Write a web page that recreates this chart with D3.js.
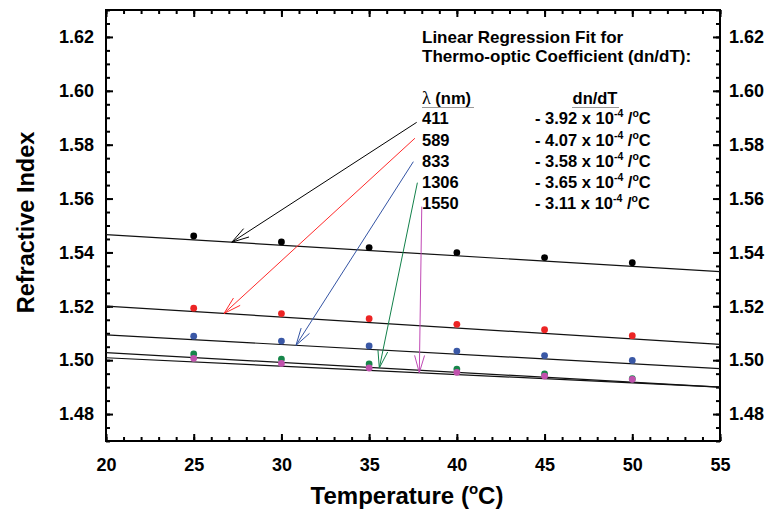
<!DOCTYPE html>
<html><head><meta charset="utf-8">
<script src="https://cdn.jsdelivr.net/npm/d3@7"></script>
<style>
body{margin:0;background:#fff}
svg{display:block}
text{font-family:"Liberation Sans",Arial,Helvetica,sans-serif;font-weight:bold;fill:#000}
</style>
</head><body>
<svg id="c" width="770" height="512"></svg>
<script>
// ---- data ----
const temperatures = [25, 30, 35, 40, 45, 50];
const wavelengths = ["411", "589", "833", "1306", "1550"];
const n411  = [1.5461, 1.5439, 1.5418, 1.5399, 1.5381, 1.5362];
const n589  = [1.5193, 1.5173, 1.5154, 1.5133, 1.5113, 1.5091];
const n833  = [1.5089, 1.5071, 1.5053, 1.5034, 1.5017, 1.4999];
const n1306 = [1.5023, 1.5004, 1.4986, 1.4967, 1.4949, 1.4931];
const n1550 = [1.5007, 1.4988, 1.4971, 1.4955, 1.4941, 1.4929];
const slopes = [-3.92e-4, -4.07e-4, -3.58e-4, -3.65e-4, -3.11e-4];
const slopeLabels = ["3.92", "4.07", "3.58", "3.65", "3.11"];
const fitAt20 = [1.5466, 1.5201, 1.5094, 1.5028, 1.5009];
const fitRange = [20, 55];
const arrowFromT = [37.71, 37.61, 37.52, 37.75, 38.0];
const arrowFromN = [1.5883, 1.5824, 1.5737, 1.5659, 1.5570];
const arrowToT = [27.17, 26.73, 30.83, 35.58, 37.86];
const xTicks = [20, 25, 30, 35, 40, 45, 50, 55];
const yTicks = [1.48, 1.50, 1.52, 1.54, 1.56, 1.58, 1.60, 1.62];
const dotColors = ["#000000", "#ec2424", "#3a58a6", "#17864a", "#c152ad"];
const arrowColors = ["#000000", "#ff2a2a", "#3454a4", "#12804a", "#c048b4"];

const series = [n411, n589, n833, n1306, n1550];

// ---- layout ----
const L = 106, R = 720, T = 10, B = 441;
const svg = d3.select("#c");
const x = d3.scaleLinear().domain([20, 55]).range([L, R]);
const y = d3.scaleLinear().domain([1.47, 1.63]).range([B, T]);

const xMinor = d3.range(20, 55.001, 1);
const yMinor = d3.range(1470, 1630.001, 5).map(v => v / 1000);

function styleAxis(g) {
  g.select(".domain").remove();
  g.selectAll(".tick line").attr("stroke", "#000").attr("stroke-width", 2);
  g.selectAll(".tick text").attr("font-size", 18).attr("fill", "#000")
    .attr("font-family", "Liberation Sans, Arial, sans-serif").attr("font-weight", "bold");
}

// minor ticks
svg.append("g").attr("transform", `translate(0,${B})`)
  .call(d3.axisBottom(x).tickValues(xMinor).tickSize(-4).tickFormat(""))
  .call(styleAxis);
svg.append("g").attr("transform", `translate(0,${T})`)
  .call(d3.axisTop(x).tickValues(xMinor).tickSize(-4).tickFormat(""))
  .call(styleAxis);
svg.append("g").attr("transform", `translate(${L},0)`)
  .call(d3.axisLeft(y).tickValues(yMinor).tickSize(-4).tickFormat(""))
  .call(styleAxis);
svg.append("g").attr("transform", `translate(${R},0)`)
  .call(d3.axisRight(y).tickValues(yMinor).tickSize(-4).tickFormat(""))
  .call(styleAxis);

// major ticks + labels
svg.append("g").attr("transform", `translate(0,${B})`)
  .call(d3.axisBottom(x).tickValues(xTicks).tickSize(-7).tickPadding(17).tickFormat(d3.format("d")))
  .call(styleAxis);
svg.append("g").attr("transform", `translate(0,${T})`)
  .call(d3.axisTop(x).tickValues(xTicks).tickSize(-7).tickFormat(""))
  .call(styleAxis);
svg.append("g").attr("transform", `translate(${L},0)`)
  .call(d3.axisLeft(y).tickValues(yTicks).tickSize(-7).tickPadding(12).tickFormat(d3.format(".2f")))
  .call(styleAxis);
svg.append("g").attr("transform", `translate(${R},0)`)
  .call(d3.axisRight(y).tickValues(yTicks).tickSize(-7).tickPadding(9).tickFormat(d3.format(".2f")))
  .call(styleAxis);

// frame
svg.append("rect").attr("x", L).attr("y", T).attr("width", R - L).attr("height", B - T)
  .attr("fill", "none").attr("stroke", "#000").attr("stroke-width", 2);

// fit lines
const line = d3.line().x(d => x(d[0])).y(d => y(d[1]));
fitAt20.forEach((a, i) => {
  const pts = fitRange.map(t => [t, a + slopes[i] * (t - 20)]);
  svg.append("path").attr("d", line(pts)).attr("fill", "none")
    .attr("stroke", "#111").attr("stroke-width", 1.2);
});

// dots
series.forEach((vals, i) => {
  svg.append("g").selectAll("circle").data(vals).join("circle")
    .attr("cx", (d, j) => x(temperatures[j])).attr("cy", d => y(d))
    .attr("r", 3.4).attr("fill", dotColors[i]);
});

// arrows
arrowToT.forEach((t, i) => {
  const tipN = fitAt20[i] + slopes[i] * (t - 20);
  const x0 = x(arrowFromT[i]), y0 = y(arrowFromN[i]);
  const x1 = x(t), y1 = y(tipN);
  const ang = Math.atan2(y0 - y1, x0 - x1);
  const len = 18, spread = 16 * Math.PI / 180;
  const w1 = [x1 + len * Math.cos(ang - spread), y1 + len * Math.sin(ang - spread)];
  const w2 = [x1 + len * Math.cos(ang + spread), y1 + len * Math.sin(ang + spread)];
  const p = d3.path();
  p.moveTo(x0, y0); p.lineTo(x1, y1);
  p.moveTo(w1[0], w1[1]); p.lineTo(x1, y1); p.lineTo(w2[0], w2[1]);
  svg.append("path").attr("d", p.toString()).attr("fill", "none")
    .attr("stroke", arrowColors[i]).attr("stroke-width", 1);
});

// legend text
const lg = svg.append("g");
lg.append("text").attr("x", 422).attr("y", 42.5).attr("font-size", 17).text("Linear Regression Fit for");
lg.append("text").attr("x", 422).attr("y", 61.5).attr("font-size", 17).text("Thermo-optic Coefficient (dn/dT):");

const hdr = lg.append("text").attr("x", 422).attr("y", 103.5).attr("font-size", 16.5);
hdr.append("tspan").attr("font-family", "Liberation Serif, DejaVu Serif, serif").attr("font-weight", "normal").attr("font-size", 18).text("λ");
hdr.append("tspan").text(" (nm)");
lg.append("text").attr("x", 595).attr("y", 103.5).attr("font-size", 16.5).attr("text-anchor", "middle").text("dn/dT");
lg.append("line").attr("x1", 422).attr("x2", 474).attr("y1", 107.5).attr("y2", 107.5).attr("stroke", "#999").attr("stroke-width", 1);
lg.append("line").attr("x1", 572).attr("x2", 619).attr("y1", 107.5).attr("y2", 107.5).attr("stroke", "#999").attr("stroke-width", 1);

wavelengths.forEach((w, i) => {
  const yy = 124.2 + i * 21.3;
  lg.append("text").attr("x", 422).attr("y", yy).attr("font-size", 16.5).text(w);
  const t = lg.append("text").attr("x", 535).attr("y", yy).attr("font-size", 16.5);
  t.append("tspan").text(`- ${slopeLabels[i]} x 10`);
  t.append("tspan").attr("font-size", 10.5).attr("dy", -7).text("-4");
  t.append("tspan").attr("dy", 7).text(" /");
  t.append("tspan").attr("font-size", 10.5).attr("dy", -7).text("o");
  t.append("tspan").attr("dy", 7).text("C");
});

// axis titles
svg.append("text").attr("transform", "translate(33.5,222.5) rotate(-90)")
  .attr("text-anchor", "middle").attr("font-size", 23.5).text("Refractive Index");
const xt = svg.append("text").attr("x", 407).attr("y", 504)
  .attr("text-anchor", "middle").attr("font-size", 24);
xt.append("tspan").text("Temperature (");
xt.append("tspan").attr("font-size", 15).attr("dy", -10).text("o");
xt.append("tspan").attr("dy", 10).text("C)");
</script>
</body></html>
